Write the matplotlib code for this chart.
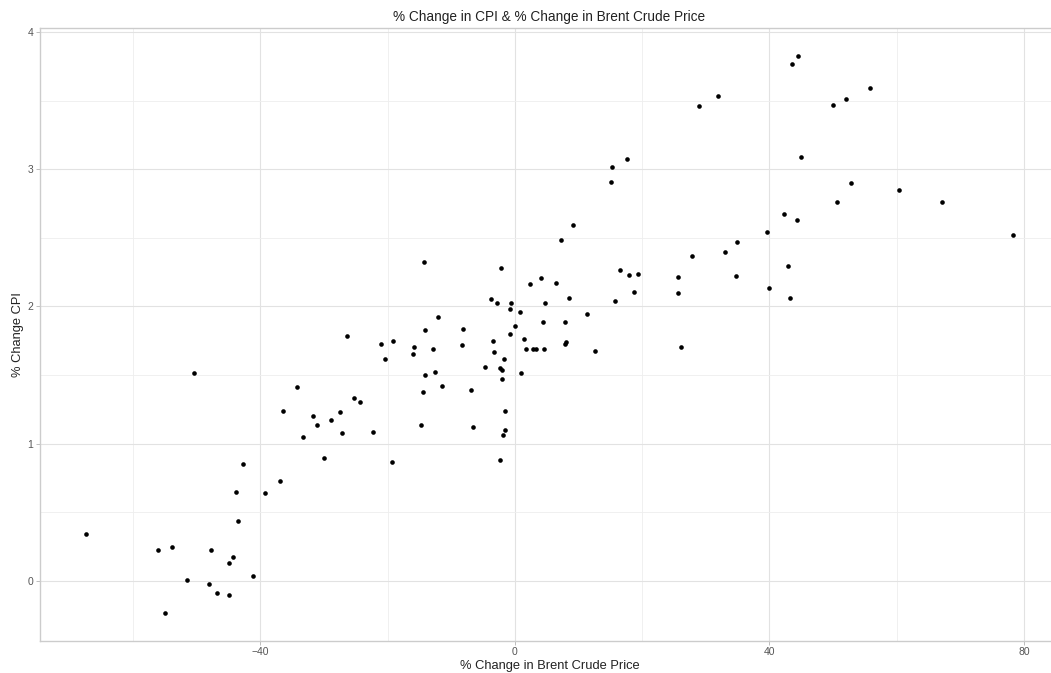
import matplotlib
matplotlib.use("Agg")
import matplotlib.pyplot as plt
from matplotlib.ticker import MultipleLocator

# % change in Brent crude price (x) and % change in CPI (y)
brent_change = [
    -30.03, -42.80, -36.94, -43.90, -39.30, -43.47, -67.35, -56.15, -53.90, -47.78,
    -44.32, -44.89, -41.12, -51.55, -48.03, -46.84, -45.00, -55.00, -14.32, -50.45,
    -12.12, -14.06, -8.09, -26.31, -21.01, -19.08, -15.89, -16.05, -12.80, -8.25,
    -20.34, -14.06, -12.53, -11.39, -14.37, -6.83, -34.21, -25.32, -24.31, -36.41,
    -27.52, -31.80, -31.13, -28.93, -27.14, -22.27, -33.22, -14.73, -6.63, -19.35,
    15.11, 9.08, 7.30, -2.12, 16.57, 17.87, 19.40, 4.16, 2.32, 6.47,
    18.66, 8.45, 15.78, -3.80, -2.80, -0.60, -0.75, 4.79, 0.82, 11.34,
    -0.03, 4.43, 7.88, -0.71, -3.49, -3.33, 1.49, 1.76, 2.86, 3.27,
    4.52, 7.88, 8.04, 12.60, -1.70, -4.74, -2.28, -2.07, -1.96, 0.91,
    -1.54, -1.54, -1.81, -2.28, 43.54, 55.79, 32.01, 28.98, 50.07, 52.02,
    17.62, 15.27, 44.95, 52.85, 50.61, 42.28, 44.37, 39.66, 34.95, 33.01,
    27.88, 25.63, 25.63, 34.79, 43.00, 39.97, 43.27, 26.10, 60.34, 67.14,
    78.25, 44.57,
]
cpi_change = [
    0.894, 0.850, 0.730, 0.650, 0.641, 0.437, 0.340, 0.226, 0.245, 0.226,
    0.177, 0.129, 0.034, 0.009, -0.020, -0.085, -0.104, -0.231, 2.321, 1.517,
    1.925, 1.830, 1.835, 1.782, 1.728, 1.746, 1.702, 1.655, 1.690, 1.721,
    1.615, 1.498, 1.524, 1.422, 1.374, 1.391, 1.415, 1.331, 1.302, 1.240,
    1.233, 1.200, 1.138, 1.175, 1.080, 1.085, 1.049, 1.138, 1.122, 0.869,
    2.904, 2.593, 2.484, 2.280, 2.267, 2.231, 2.238, 2.209, 2.161, 2.173,
    2.107, 2.063, 2.042, 2.052, 2.023, 2.023, 1.981, 2.023, 1.957, 1.945,
    1.859, 1.889, 1.889, 1.799, 1.746, 1.668, 1.763, 1.690, 1.690, 1.690,
    1.690, 1.724, 1.743, 1.677, 1.619, 1.559, 1.551, 1.539, 1.473, 1.517,
    1.236, 1.098, 1.061, 0.881, 3.763, 3.591, 3.535, 3.462, 3.469, 3.511,
    3.074, 3.017, 3.086, 2.899, 2.760, 2.671, 2.629, 2.540, 2.467, 2.394,
    2.365, 2.214, 2.100, 2.219, 2.292, 2.132, 2.059, 1.704, 2.850, 2.760,
    2.520, 3.826,
]

x_ticks = [-40, 0, 40, 80]
y_ticks = [0, 1, 2, 3, 4]
title = "% Change in CPI & % Change in Brent Crude Price"
x_label = "% Change in Brent Crude Price"
y_label = "% Change CPI"

plt.rcParams['font.family'] = ['Liberation Sans', 'DejaVu Sans']

W, H = 1051, 673
fig = plt.figure(figsize=(W / 100, H / 100), dpi=100)
left, right, top, bottom = 40, 1059, 28, 640.5
ax = fig.add_axes([left / W, 1 - bottom / H, (right - left) / W, (bottom - top) / H])

ax.scatter(brent_change, cpi_change, s=11, color="black", linewidths=0, zorder=3)

# ggplot-like 5% expansion
xmin, xmax = min(brent_change), max(brent_change)
ymin, ymax = min(cpi_change), max(cpi_change)
dx, dy = (xmax - xmin) * 0.05, (ymax - ymin) * 0.05
ax.set_xlim(xmin - dx, xmax + dx)
ax.set_ylim(ymin - dy, ymax + dy)

ax.set_xticks(x_ticks)
ax.set_yticks(y_ticks)
ax.xaxis.set_minor_locator(MultipleLocator(20))
ax.yaxis.set_minor_locator(MultipleLocator(0.5))
ax.grid(which="major", color="#e2e2e2", linewidth=0.8)
ax.grid(which="minor", color="#eeeeee", linewidth=0.6)
ax.set_axisbelow(True)
ax.tick_params(which="major", length=3, width=0.6, color="#b3b3b3",
               labelsize=7.5, labelcolor="#555555", pad=2)
ax.tick_params(which="minor", length=0)
for sp in ax.spines.values():
    sp.set_color("#cccccc")
    sp.set_linewidth(1.0)

ax.set_title(title, fontsize=9.8, color="#222222", pad=5)
ax.set_xlabel(x_label, fontsize=9.3, color="#222222", labelpad=1.5)
ax.set_ylabel(y_label, fontsize=9.3, color="#222222", labelpad=2)

fig.savefig("out.png", dpi=100)
